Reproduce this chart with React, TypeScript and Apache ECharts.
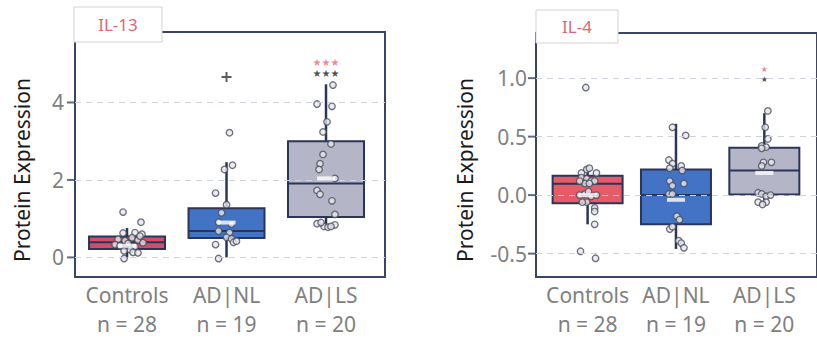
import React, { useEffect, useRef } from "react";
import * as echarts from "echarts";

// ---------- data ----------
const categories = ["Controls", "AD|NL", "AD|LS"];
const groupSizes = [28, 19, 20];

// [whiskerLow, Q1, median, Q3, whiskerHigh]
const il13Boxes = [
  [0.0, 0.22, 0.39, 0.54, 0.76],
  [0.0, 0.5, 0.68, 1.27, 2.46],
  [0.8, 1.04, 1.91, 3.0, 4.47],
];
const il13Means = [0.3, 0.9, 2.04];
const il13Outliers = [[1, 4.66]];
const il13ControlsVals = [1.17, 0.91, 0.63, 0.64, 0.6, 0.51, 0.43, 0.47, 0.45, 0.36, 0.33, 0.38, 0.3, 0.28, 0.2, 0.13, 0.12, 0.17, -0.03, 0.55];
const il13ControlsJit = [-0.04, 0.14, -0.04, 0.08, 0.15, 0.05, -0.02, -0.09, 0.11, 0.01, -0.12, 0.16, -0.07, 0.08, 0.03, 0.06, 0.11, -0.03, -0.03, 0.13];
const il13NLVals = [3.22, 2.38, 2.27, 1.66, 1.36, 1.15, 0.91, 0.86, 0.68, 0.64, 0.52, 0.48, 0.39, 0.33, -0.03, 0.42];
const il13NLJit = [0.03, 0.06, -0.02, -0.11, 0.0, -0.05, -0.08, 0.05, -0.08, 0.03, 0.0, 0.05, 0.07, -0.11, -0.08, 0.1];
const il13LSVals = [4.45, 3.96, 3.9, 3.5, 3.24, 2.93, 2.66, 2.42, 2.27, 2.04, 1.73, 1.63, 1.46, 1.11, 0.87, 0.8, 0.78, 0.84, 0.9, 0.8];
const il13LSJit = [0.07, -0.09, 0.06, 0.01, -0.03, 0.05, -0.03, -0.06, -0.07, 0.09, -0.09, -0.06, 0.06, 0.09, -0.09, -0.02, 0.02, 0.09, -0.05, 0.05];
const il13StarsTop = 5.03;
const il13StarsBottom = 4.75;
const il13Ticks = [0, 2, 4];

const il4Boxes = [
  [-0.25, -0.07, 0.097, 0.166, 0.24],
  [-0.46, -0.25, 0.0, 0.22, 0.61],
  [-0.09, 0.005, 0.21, 0.405, 0.7],
];
const il4Means = [0.0, -0.04, 0.19];
const il4ControlsVals = [0.92, -0.48, -0.54, -0.25, -0.11, -0.14, -0.06, -0.06, 0.22, 0.19, 0.23, 0.19, 0.15, 0.14, 0.12, 0.12, 0.1, 0.1, 0.12, 0.0, 0.01, -0.01, 0.0, 0.03];
const il4ControlsJit = [-0.02, -0.08, 0.09, 0.08, 0.08, 0.08, -0.01, -0.06, -0.01, -0.07, 0.02, 0.1, -0.07, -0.01, 0.04, 0.08, -0.03, 0.02, -0.09, -0.09, -0.03, 0.04, 0.1, 0.01];
const il4NLVals = [0.58, 0.51, 0.3, 0.27, 0.25, 0.23, 0.21, 0.12, 0.08, 0.1, 0.01, 0.01, -0.18, -0.21, -0.29, -0.27, -0.39, -0.41, -0.45];
const il4NLJit = [-0.04, 0.11, -0.08, -0.04, 0.06, -0.07, 0.07, -0.07, -0.04, 0.09, -0.08, -0.04, 0.01, 0.04, -0.07, -0.04, 0.03, 0.06, 0.09];
const il4LSVals = [0.72, 0.58, 0.48, 0.42, 0.41, 0.4, 0.28, 0.28, 0.25, 0.02, 0.01, -0.01, -0.06, -0.06, -0.08, 0.0];
const il4LSJit = [0.04, 0.01, 0.04, -0.03, 0.02, -0.03, -0.01, 0.08, -0.03, -0.07, -0.03, 0.02, -0.07, 0.02, -0.02, 0.07];
const il4StarsTop = 1.07;
const il4StarsBottom = 0.985;
const il4Ticks = [-0.5, 0, 0.5, 1.0];

// ---------- styles ----------
const FONT = "'Noto Sans', 'Liberation Sans', Arial, sans-serif";
const FRAME = "#3a4466";
const BOX_LINE = "#2b3558";
const GRAY = "#808080";
const il13Colors = ["#cf4f6b", "#4273c5", "#b5b5c8"];
const il4Colors = ["#e35c68", "#4273c5", "#b5b5c8"];

function pts(center: number, vals: number[], jit: number[]) {
  return vals.map((v, i) => [center + jit[i], v]);
}

function panelSeries(idx: number, xMin: number, boxes: number[][], colors: string[], boxW: number, means: number[], points: number[][], ticks: number[], starsTop: number, starsBottom: number, starText: string, starSize: number, outliers: number[][]) {
  return [
    {
      type: "scatter",
      xAxisIndex: idx,
      yAxisIndex: idx,
      data: [],
      z: 1,
      silent: true,
      markLine: {
        silent: true,
        symbol: ["none", "none"],
        label: { show: false },
        lineStyle: { color: "#cfd3dc", width: 1, type: [6, 5] },
        data: ticks.map((t) => ({ yAxis: t })),
      },
    },
    {
      // y-axis tick marks just outside the frame
      type: "scatter",
      xAxisIndex: idx,
      yAxisIndex: idx,
      z: 6,
      clip: false,
      silent: true,
      symbol: "rect",
      symbolSize: [8, 2],
      symbolOffset: [-4, 0],
      itemStyle: { color: FRAME },
      data: ticks.map((t) => [xMin, t]),
    },
    {
      type: "custom",
      xAxisIndex: idx,
      yAxisIndex: idx,
      z: 2,
      data: boxes.map((b, i) => [i, ...b]),
      renderItem: (params: any, api: any) => {
        const x = api.value(0);
        const lo = api.coord([x, api.value(1)]);
        const q1 = api.coord([x, api.value(2)]);
        const med = api.coord([x, api.value(3)]);
        const q3 = api.coord([x, api.value(4)]);
        const hi = api.coord([x, api.value(5)]);
        const cx = med[0];
        return {
          type: "group",
          children: [
            { type: "line", shape: { x1: cx, y1: lo[1], x2: cx, y2: hi[1] }, style: { stroke: BOX_LINE, lineWidth: 2.5 } },
            { type: "rect", shape: { x: cx - boxW / 2, y: q3[1], width: boxW, height: q1[1] - q3[1] }, style: { fill: colors[params.dataIndex], stroke: BOX_LINE, lineWidth: 2 } },
            { type: "line", shape: { x1: cx - boxW / 2, y1: med[1], x2: cx + boxW / 2, y2: med[1] }, style: { stroke: BOX_LINE, lineWidth: 2 } },
          ],
        };
      },
    },
    {
      type: "scatter",
      xAxisIndex: idx,
      yAxisIndex: idx,
      z: 3,
      symbol: "circle",
      symbolSize: 6.5,
      itemStyle: { color: "#e6e6ee", borderColor: "#474c58", borderWidth: 1.3 },
      data: points,
    },
    {
      type: "scatter",
      xAxisIndex: idx,
      yAxisIndex: idx,
      z: 4,
      symbol: "rect",
      symbolSize: [18, 4],
      itemStyle: { color: "#ffffff" },
      data: means.map((m, i) => [i, m]),
    },
    {
      type: "scatter",
      xAxisIndex: idx,
      yAxisIndex: idx,
      z: 4,
      symbol: "path://M4 0h2v4h4v2H6v4H4V6H0V4h4z",
      symbolSize: 10,
      itemStyle: { color: "#333333" },
      data: outliers,
    },
    {
      type: "scatter",
      xAxisIndex: idx,
      yAxisIndex: idx,
      z: 5,
      symbolSize: 0,
      label: { show: true, position: "inside", formatter: starText, fontSize: starSize, lineHeight: starSize, fontFamily: "DejaVu Sans", color: "#ee6384" },
      data: [[2, starsTop]],
    },
    {
      type: "scatter",
      xAxisIndex: idx,
      yAxisIndex: idx,
      z: 5,
      symbolSize: 0,
      label: { show: true, position: "inside", formatter: starText, fontSize: starSize, lineHeight: starSize, fontFamily: "DejaVu Sans", color: "#222222" },
      data: [[2, starsBottom]],
    },
  ];
}

function xAxisFor(idx: number, min: number, max: number) {
  return {
    type: "value",
    gridIndex: idx,
    min,
    max,
    axisLine: { show: false, onZero: false },
    axisTick: { show: false },
    splitLine: { show: false },
    axisLabel: {
      customValues: [0, 1, 2],
      margin: 3,
      color: GRAY,
      fontSize: 21,
      lineHeight: 29,
      fontFamily: FONT,
      formatter: (v: number) => `${categories[Math.round(v)]}\nn = ${groupSizes[Math.round(v)]}`,
    },
  };
}

function yAxisFor(idx: number, min: number, max: number, ticks: number[], fmt: (v: number) => string, margin: number) {
  return {
    type: "value",
    gridIndex: idx,
    min,
    max,
    axisLine: { show: false, onZero: false },
    splitLine: { show: false },
    axisTick: { show: false },
    axisLabel: { customValues: ticks, color: GRAY, fontSize: 21, fontFamily: FONT, margin, formatter: fmt },
  };
}

const X_MIN_LEFT = -0.523;
const X_MIN_RIGHT = -0.584;

export default function App() {
  const ref = useRef<HTMLDivElement>(null);
  useEffect(() => {
    if (!ref.current) return;
    const chart = echarts.init(ref.current, null, { renderer: "svg" });
    const il13Points = [
      ...pts(0, il13ControlsVals, il13ControlsJit),
      ...pts(1, il13NLVals, il13NLJit),
      ...pts(2, il13LSVals, il13LSJit),
    ];
    const il4Points = [
      ...pts(0, il4ControlsVals, il4ControlsJit),
      ...pts(1, il4NLVals, il4NLJit),
      ...pts(2, il4LSVals, il4LSJit),
    ];
    const tab = (x: number, y: number, w: number, h: number, text: string) => ({
      type: "group",
      z: 100,
      children: [
        { type: "rect", shape: { x, y, width: w, height: h }, style: { fill: "#ffffff", stroke: "#d4d4d4", lineWidth: 1 }, z: 100 },
        { type: "text", x: x + w / 2, y: y + h / 2, z: 101, style: { text, fill: "#e06677", font: `17px ${FONT}`, textAlign: "center", textVerticalAlign: "middle" } },
      ],
    });
    const yTitle = (x: number, y: number) => ({
      type: "text",
      x,
      y,
      rotation: Math.PI / 2,
      style: { text: "Protein Expression", fill: "#1a1a1a", font: `21px ${FONT}`, textAlign: "center", textVerticalAlign: "middle" },
    });
    chart.setOption({
      animation: false,
      backgroundColor: "#ffffff",
      grid: [
        { left: 75, top: 32, width: 310, height: 250, show: true, borderColor: FRAME, borderWidth: 2, backgroundColor: "transparent" },
        { left: 536, top: 33, width: 283, height: 250, show: true, borderColor: FRAME, borderWidth: 2, backgroundColor: "transparent" },
      ],
      xAxis: [xAxisFor(0, X_MIN_LEFT, 2.593), xAxisFor(1, X_MIN_RIGHT, 2.596)],
      yAxis: [
        yAxisFor(0, -0.506, 5.82, il13Ticks, (v) => String(Math.round(v)), 11),
        yAxisFor(1, -0.7, 1.386, il4Ticks, (v) => v.toFixed(1), 9),
      ],
      series: [
        ...panelSeries(0, X_MIN_LEFT, il13Boxes, il13Colors, 76, il13Means, il13Points, il13Ticks, il13StarsTop, il13StarsBottom, "★★★", 10, il13Outliers),
        ...panelSeries(1, X_MIN_RIGHT, il4Boxes, il4Colors, 70, il4Means, il4Points, il4Ticks, il4StarsTop, il4StarsBottom, "★", 8, []),
      ],
      graphic: [
        tab(74, 7, 88, 35, "IL-13"),
        tab(536, 10, 82, 33, "IL-4"),
        yTitle(22, 170),
        yTitle(465, 170),
      ],
    });
    return () => chart.dispose();
  }, []);
  return <div ref={ref} style={{ position: "fixed", left: 0, top: 0, width: 817, height: 338 }} />;
}
